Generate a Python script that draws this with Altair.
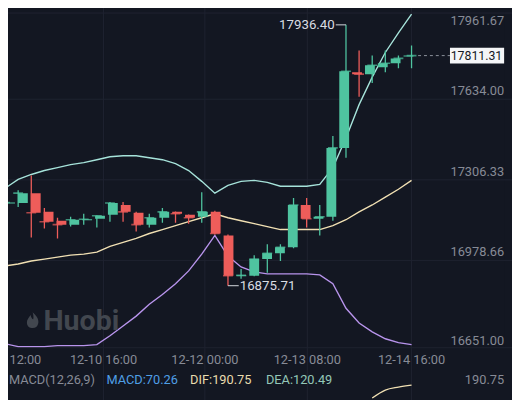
import altair as alt
import pandas as pd

# ---------------- data ----------------
idx = list(range(32))
opens  = [17210, 17212, 17252, 17176, 17140, 17124, 17142, 17148, 17164, 17204, 17172, 17124, 17152, 17176, 17164, 17156,
          17176, 17080, 16914, 16916, 16984, 17008, 17032, 17204, 17148, 17156, 17436, 17744, 17736, 17764, 17780, 17808]
highs  = [17224, 17264, 17324, 17192, 17152, 17156, 17168, 17161, 17216, 17216, 17176, 17168, 17192, 17177, 17165, 17256,
          17180, 17084, 16944, 17000, 17044, 17044, 17232, 17232, 17204, 17484, 17936.40, 17832, 17812, 17832, 17812, 17852]
lows   = [17192, 17196, 17072, 17108, 17068, 17116, 17124, 17112, 17136, 17136, 17096, 17112, 17132, 17132, 17128, 17132,
          17084, 16875.71, 16904, 16914, 16928, 16976, 17028, 17112, 17080, 17140, 17396, 17644, 17700, 17744, 17760, 17760]
closes = [17214, 17252, 17172, 17136, 17124, 17144, 17146, 17160, 17212, 17176, 17124, 17152, 17176, 17168, 17152, 17176,
          17088, 16916, 16918, 16984, 17008, 17032, 17204, 17148, 17156, 17436, 17748, 17736, 17772, 17780, 17800, 17811.31]

boll_upper = [17272, 17308, 17328, 17344, 17356, 17368, 17376, 17388, 17400, 17404, 17404, 17396, 17388, 17372, 17344, 17300,
              17252, 17284, 17300, 17304, 17296, 17280, 17280, 17280, 17288, 17356, 17476, 17612, 17724, 17824, 17904, 17980]
boll_mid   = [16956, 16964, 16976, 16984, 16992, 17000, 17004, 17012, 17036, 17052, 17068, 17088, 17104, 17120, 17136, 17152,
              17168, 17152, 17140, 17128, 17116, 17104, 17104, 17104, 17104, 17120, 17144, 17176, 17204, 17236, 17268, 17304]
boll_lower = [16640, 16628, 16628, 16628, 16632, 16632, 16632, 16636, 16672, 16712, 16752, 16800, 16840, 16884, 16936, 17004,
              17080, 16996, 16952, 16932, 16924, 16924, 16924, 16924, 16920, 16884, 16784, 16724, 16688, 16660, 16644, 16636]

x_tick_pos = [1.55, 7.51, 15.24, 23.05, 31.0]
x_tick_labels = ["12:00", "12-10 16:00", "12-12 00:00", "12-13 08:00", "12-14 16:00"]
grid_x = [7.51, 15.24, 23.05, 31.0]
y_grid = [17634.00, 17306.33, 16978.66]
y_top_label = [17961.67]
y_mid_labels = [17634.00, 17306.33, 16978.66]
y_bottom_label = [16651.00]

high_idx, high_val = 26, 17936.40
low_idx, low_val = 17, 16875.71
last_idx, last_price = 31, 17811.31

dif_idx = [28, 29, 30, 31]
dif_vals = [147, 174, 184, 190.75]
macd_texts = ["MACD(12,26,9)", "MACD:70.26", "DIF:190.75", "DEA:120.49"]
macd_colors = ["#878b96", "#4f9fe6", "#e9dcae", "#93c7b8"]
macd_x = [1, 100, 185, 262]

# ---------------- styling ----------------
BG = "#131722"
GRID = "#1e2330"
UP = "#4fc4a0"
DOWN = "#ee5d5a"
TXT = "#878b96"
WM = "#42474f"
FONT = "Roboto"

W, H = 504, 342
xs = alt.Scale(domain=[0.225, 38.06], nice=False, zero=False)
ys = alt.Scale(domain=[16623.55, 17992.44], nice=False, zero=False)

candles = pd.DataFrame({"i": idx, "open": opens, "high": highs, "low": lows, "close": closes})
candles["dir"] = ["up" if c >= o else "down" for o, c in zip(opens, closes)]
bands = pd.DataFrame({"i": idx, "upper": boll_upper, "mid": boll_mid, "lower": boll_lower})
color = alt.Color("dir:N", scale=alt.Scale(domain=["up", "down"], range=[UP, DOWN]), legend=None)


def X(f):
    return alt.X(f, type="quantitative", scale=xs, axis=None)


def Y(f):
    return alt.Y(f, type="quantitative", scale=ys, axis=None)


vgrid = alt.Chart(pd.DataFrame({"x": grid_x})).mark_rule(color=GRID, strokeWidth=1).encode(
    x=X("x"), y=alt.value(-10), y2=alt.value(400))
hgrid = alt.Chart(pd.DataFrame({"y": y_grid})).mark_rule(color=GRID, strokeWidth=1).encode(
    y=Y("y"), x=alt.value(0), x2=alt.value(W + 8))
borders = alt.Chart(pd.DataFrame({"y": [2, H]})).mark_rule(color=GRID, strokeWidth=1).encode(
    y=alt.Y("y:Q", scale=alt.Scale(domain=[0, H], range=[0, H]), axis=None), x=alt.value(0), x2=alt.value(W + 8))

wick = alt.Chart(candles).mark_rule(strokeWidth=1.3, clip=True).encode(
    x=X("i"), y=Y("low"), y2=alt.Y2("high"), color=color)
body = alt.Chart(candles).mark_bar(size=10, clip=True).encode(
    x=X("i"), y=Y("open"), y2=alt.Y2("close"), color=color)
doji = alt.Chart(candles).mark_tick(orient="horizontal", size=10, thickness=1.6, clip=True).encode(
    x=X("i"), y=Y("close"), color=color)

up_line = alt.Chart(bands).mark_line(color="#a6e3da", strokeWidth=1.4, clip=True).encode(x=X("i"), y=Y("upper"))
mid_line = alt.Chart(bands).mark_line(color="#f1e0b3", strokeWidth=1.4, clip=True).encode(x=X("i"), y=Y("mid"))
low_line = alt.Chart(bands).mark_line(color="#b894ec", strokeWidth=1.4, clip=True).encode(x=X("i"), y=Y("lower"))

hl = pd.DataFrame({"i": [high_idx], "v": [high_val], "i2": [high_idx - 0.78], "t": [f"{high_val:.2f}"]})
hi_rule = alt.Chart(hl).mark_rule(color="#d5d8de", strokeWidth=1).encode(x=X("i"), x2=alt.X2("i2"), y=Y("v"))
hi_text = alt.Chart(hl).mark_text(align="right", baseline="middle", dx=-1, fontSize=13.5, font=FONT,
                                  color="#d9dce2").encode(x=X("i2"), y=Y("v"), text="t:N")
ll = pd.DataFrame({"i": [low_idx], "v": [low_val], "i2": [low_idx + 0.82], "t": [f"{low_val:.2f}"]})
lo_rule = alt.Chart(ll).mark_rule(color="#d5d8de", strokeWidth=1).encode(x=X("i"), x2=alt.X2("i2"), y=Y("v"))
lo_text = alt.Chart(ll).mark_text(align="left", baseline="middle", dx=1, fontSize=13.5, font=FONT,
                                  color="#d9dce2").encode(x=X("i2"), y=Y("v"), text="t:N")

pl = pd.DataFrame({"a": [last_idx + 0.5], "b": [33.93], "c": [38.06], "m": [35.95], "v": [last_price],
                   "t": [f"{last_price:.2f}"]})
price_dash = alt.Chart(pl).mark_rule(color="#8d929c", strokeDash=[3, 3], strokeWidth=1).encode(
    x=X("a"), x2=alt.X2("b"), y=Y("v"))
price_box = alt.Chart(pl).mark_rect(color="#f4f5f7", yOffset=-8, y2Offset=8).encode(
    x=X("b"), x2=alt.X2("c"), y=Y("v"), y2=alt.Y2("v"))
price_txt = alt.Chart(pl).mark_text(color="#15181f", fontSize=12.5, font=FONT, baseline="middle").encode(
    x=X("m"), y=Y("v"), text="t:N")

ylab_top = alt.Chart(pd.DataFrame({"v": y_top_label})).mark_text(
    align="right", baseline="middle", dy=2, fontSize=13, font=FONT, color=TXT).encode(
    x=alt.value(W), y=Y("v"), text=alt.Text("v:Q", format=".2f"))
ylab_mid = alt.Chart(pd.DataFrame({"v": y_mid_labels})).mark_text(
    align="right", baseline="middle", dy=-8, fontSize=13, font=FONT, color=TXT).encode(
    x=alt.value(W), y=Y("v"), text=alt.Text("v:Q", format=".2f"))
ylab_bot = alt.Chart(pd.DataFrame({"v": y_bottom_label})).mark_text(
    align="right", baseline="middle", dy=0, fontSize=13, font=FONT, color=TXT).encode(
    x=alt.value(W), y=Y("v"), text=alt.Text("v:Q", format=".2f"))

xlab = alt.Chart(pd.DataFrame({"x": x_tick_pos, "t": x_tick_labels})).mark_text(
    baseline="middle", fontSize=13, font=FONT, color=TXT).encode(x=X("x"), y=alt.value(H + 13), text="t:N")

wm_text = alt.Chart(pd.DataFrame({"t": ["Huobi"]})).mark_text(
    align="left", baseline="middle", fontSize=29, fontWeight="bold", font=FONT, color=WM).encode(
    x=alt.value(36), y=alt.value(315), text="t:N")
flame = ("M0,-1 C0.45,-0.55 0.8,-0.2 0.72,0.35 C0.65,0.8 0.35,1 0,1 C-0.35,1 -0.68,0.8 -0.72,0.35 "
         "C-0.76,-0.05 -0.45,-0.35 -0.25,-0.65 C-0.2,-0.3 -0.05,-0.15 0.08,-0.1 C0.15,-0.45 0.08,-0.75 0,-1 Z")
wm_logo = alt.Chart(pd.DataFrame({"t": ["logo"]})).mark_point(
    shape=flame, filled=True, size=260, color=WM, opacity=1).encode(x=alt.value(25), y=alt.value(314))

macd_df = pd.DataFrame({"t": macd_texts, "c": macd_colors, "x": macd_x})
macd_lbl = alt.Chart(macd_df).mark_text(align="left", baseline="middle", fontSize=13, font=FONT).encode(
    x=alt.X("x:Q", scale=alt.Scale(domain=[0, W], range=[0, W]), axis=None), y=alt.value(375),
    text="t:N", color=alt.Color("c:N", scale=None))
macd_right = alt.Chart(pd.DataFrame({"v": [dif_vals[-1]]})).mark_text(
    align="right", baseline="middle", fontSize=13, font=FONT, color=TXT).encode(
    x=alt.value(W), y=alt.value(375), text=alt.Text("v:Q", format=".2f"))
dif = alt.Chart(pd.DataFrame({"i": dif_idx, "d": dif_vals})).mark_line(
    color="#f1e0b3", strokeWidth=1.4, interpolate="monotone").encode(
    x=X("i"), y=alt.Y("d:Q", scale=alt.Scale(domain=[0, 190.75], range=[437.2, 380]), axis=None))

chart = alt.layer(
    vgrid, hgrid, borders, up_line, mid_line, low_line, wick, body, doji,
    hi_rule, hi_text, lo_rule, lo_text, price_dash, price_box, price_txt,
    ylab_top, ylab_mid, ylab_bot, xlab, wm_logo, wm_text, macd_lbl, macd_right, dif
).resolve_scale(y="independent", x="independent").properties(
    width=W, height=H, autosize=alt.AutoSizeParams(type="none"),
    padding={"left": 0, "top": 0, "right": 8, "bottom": 50}, background=BG
).configure_view(stroke=None, fill=BG)

chart.save("out.html", embed_options={"renderer": "svg", "actions": False})
